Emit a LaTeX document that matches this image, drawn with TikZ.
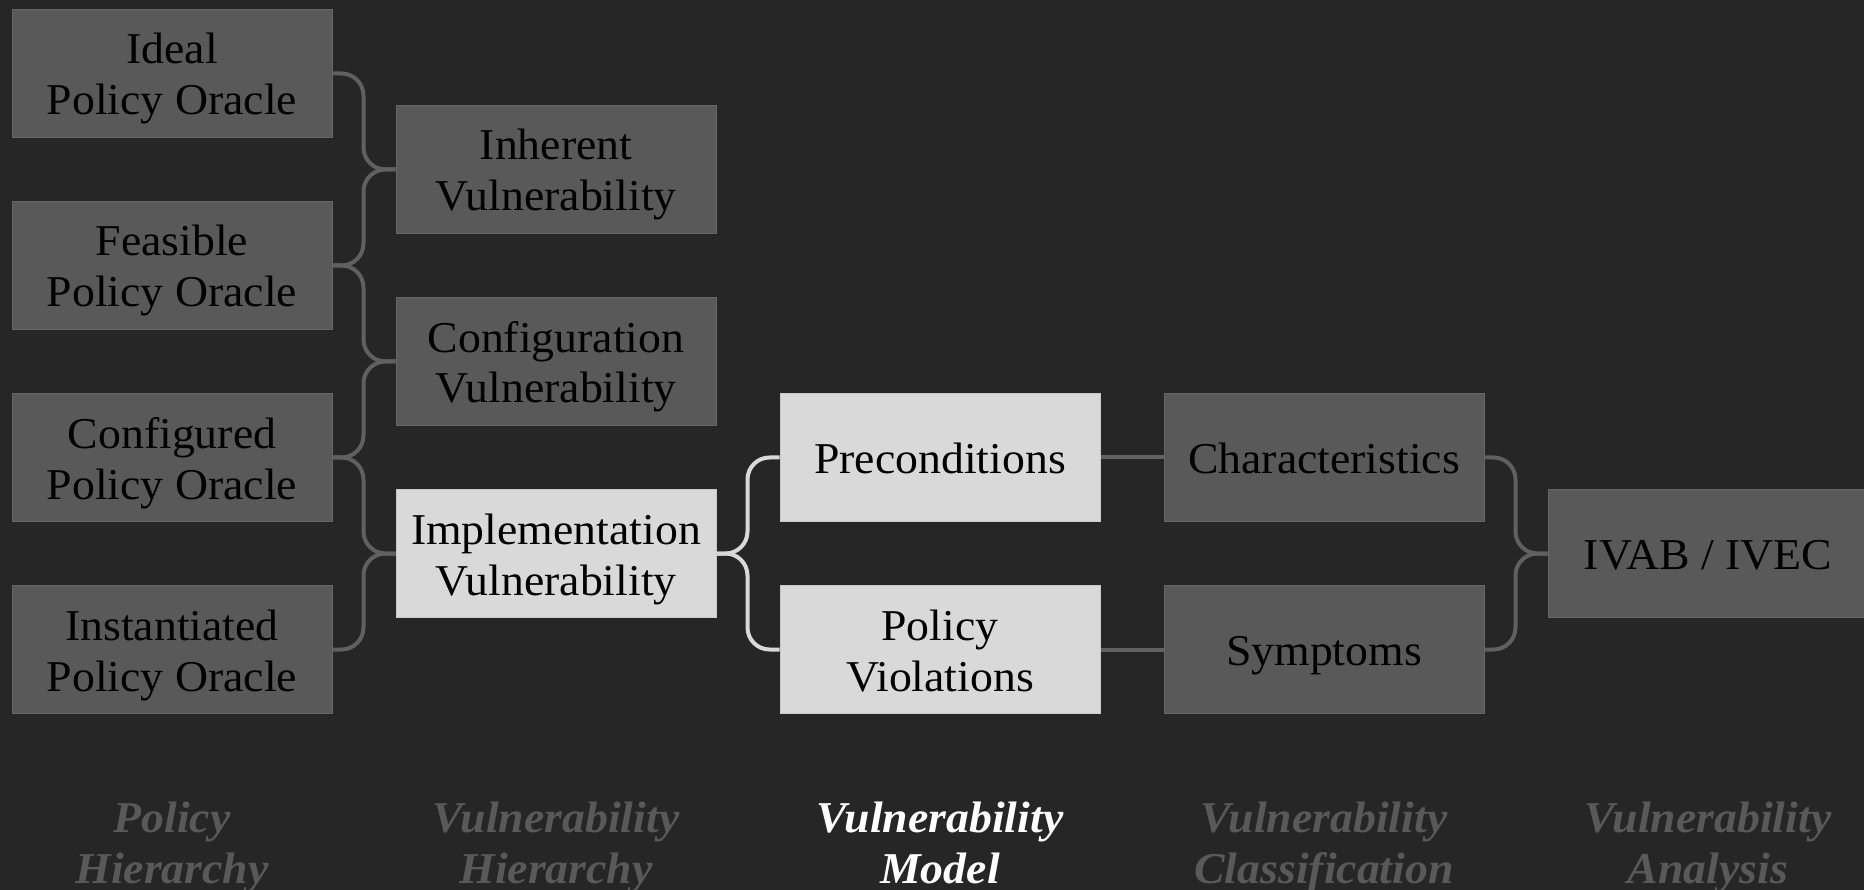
\documentclass[tikz,border=0pt]{standalone}
\usepackage{fontspec}
\setmainfont{Liberation Serif}[FakeStretch=1.04]
\definecolor{bg}{HTML}{262626}
\definecolor{boxdark}{HTML}{595959}
\definecolor{boxlight}{HTML}{D9D9D9}
\definecolor{wirecol}{HTML}{606060}
% fixed line box so every line sits the same way in its node
\newcommand\lnstrut{\rule[-9.5pt]{0pt}{51pt}}
\begin{document}
\begin{tikzpicture}[x=1pt,y=-1pt,
  box/.style={minimum width=320pt, minimum height=128pt, inner sep=0pt,
    align=center, text=black, font=\fontsize{44}{51}\selectfont},
  dark/.style={box, fill=boxdark, draw=boxdark!92!white, line width=1pt},
  light/.style={box, fill=boxlight, draw=boxlight!92!black, line width=1pt},
  wire/.style={draw=wirecol, line width=4pt, rounded corners=22pt},
  lightwire/.style={wire, draw=boxlight},
  straight/.style={draw=wirecol, line width=4pt},
  stage/.style={align=center, inner sep=0pt, font=\fontsize{44}{51}\selectfont\bfseries\itshape, text=boxdark},
  current/.style={stage, text=white}
]
\fill[bg] (0,0) rectangle (1864,890);
\useasboundingbox (0,0) rectangle (1864,890);

% policy hierarchy
\node[dark] (ideal) at (172,73.5)  {\lnstrut Ideal\\\lnstrut Policy Oracle};
\node[dark] (feas)  at (172,265.5) {\lnstrut Feasible\\\lnstrut Policy Oracle};
\node[dark] (cfgp)  at (172,457.5) {\lnstrut Configured\\\lnstrut Policy Oracle};
\node[dark] (inst)  at (172,649.5) {\lnstrut Instantiated\\\lnstrut Policy Oracle};

% vulnerability hierarchy
\node[dark]  (inh)  at (556,169.5) {\lnstrut Inherent\\\lnstrut Vulnerability};
\node[dark]  (cfgv) at (556,361.5) {\lnstrut Configuration\\\lnstrut Vulnerability};
\node[light] (impl) at (556,553.5) {\lnstrut Implementation\\\lnstrut Vulnerability};

% vulnerability model
\node[light] (pre)  at (940,457.5) {\lnstrut Preconditions};
\node[light] (viol) at (940,649.5) {\lnstrut Policy\\\lnstrut Violations};

% classification
\node[dark] (chars) at (1324,457.5) {\lnstrut Characteristics};
\node[dark] (symp)  at (1324,649.5) {\lnstrut Symptoms};

% analysis
\node[dark] (ivab) at (1708,553.5) {\lnstrut IVAB / IVEC};

% bracket connectors
\draw[wire] (ideal.east) -- ++(31,0) |- (inh.west);
\draw[wire] (feas.east)  -- ++(31,0) |- (inh.west);
\draw[wire] (feas.east)  -- ++(31,0) |- (cfgv.west);
\draw[wire] (cfgp.east)  -- ++(31,0) |- (cfgv.west);
\draw[wire] (cfgp.east)  -- ++(31,0) |- (impl.west);
\draw[wire] (inst.east)  -- ++(31,0) |- (impl.west);

\draw[lightwire] (impl.east) -- ++(31,0) |- (pre.west);
\draw[lightwire] (impl.east) -- ++(31,0) |- (viol.west);

\draw[straight] (pre.east)  -- (chars.west);
\draw[straight] (viol.east) -- (symp.west);

\draw[wire] (chars.east) -- ++(31,0) |- (ivab.west);
\draw[wire] (symp.east)  -- ++(31,0) |- (ivab.west);

% stage captions
\node[stage]   (s1) at (172,841.5)  {\lnstrut Policy\\\lnstrut Hierarchy};
\node[stage]   (s2) at (556,841.5)  {\lnstrut Vulnerability\\\lnstrut Hierarchy};
\node[current] (s3) at (940,841.5)  {\lnstrut Vulnerability\\\lnstrut Model};
\node[stage]   (s4) at (1324,841.5) {\lnstrut Vulnerability\\\lnstrut Classification};
\node[stage]   (s5) at (1708,841.5) {\lnstrut Vulnerability\\\lnstrut Analysis};
\end{tikzpicture}
\end{document}
